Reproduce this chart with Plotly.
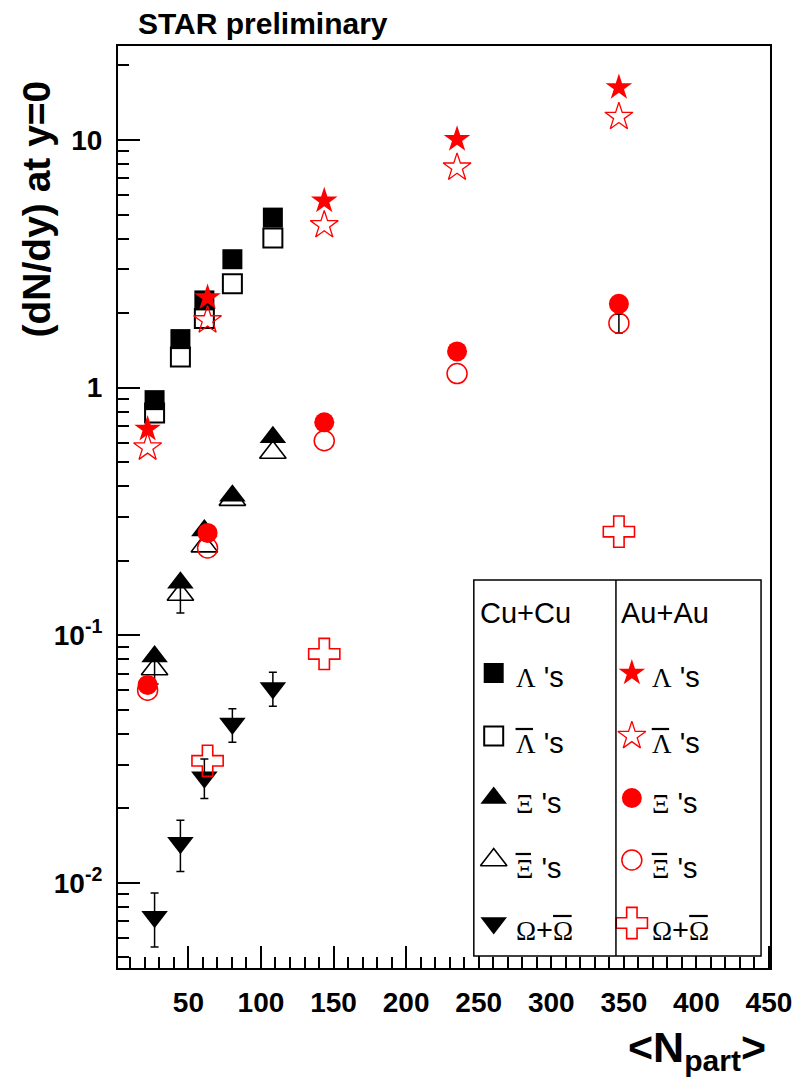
import plotly.graph_objects as go

# ---------------- data ----------------
cu_npart = [26.7, 44.5, 61.0, 80.3, 108.2]
cu_lambda = [0.89, 1.57, 2.25, 3.30, 4.86]
cu_antilambda = [0.79, 1.33, 1.90, 2.63, 4.02]
cu_xi = [0.082, 0.163, 0.265, 0.366, 0.63]
cu_antixi = [0.073, 0.146, 0.229, 0.353, 0.547]
cu_antixi_err = [0.0095, 0.023, 0.0, 0.0, 0.0]
cu_omega = [0.0073, 0.0145, 0.0267, 0.0440, 0.0612]
cu_omega_hi = [0.0091, 0.0179, 0.0316, 0.0505, 0.0708]
cu_omega_lo = [0.0055, 0.0111, 0.0219, 0.0370, 0.0516]

au_npart = [21.9, 63.2, 143.6, 235.1, 346.6]
au_lambda = [0.68, 2.31, 5.68, 10.06, 16.3]
au_antilambda = [0.573, 1.87, 4.53, 7.74, 12.4]
au_xi = [0.063, 0.259, 0.724, 1.40, 2.18]
au_xi_err = [0.0, 0.0, 0.0, 0.0, 0.13]
au_antixi = [0.060, 0.225, 0.61, 1.14, 1.82]
au_antixi_err = [0.0, 0.0, 0.0, 0.0, 0.16]
au_omega_npart = [63.2, 143.6, 346.6]
au_omega = [0.0311, 0.084, 0.262]

y_tickvals = [0.01, 0.1, 1, 10]
y_ticktext = ["10<sup>-2</sup>", "10<sup>-1</sup>", "1", "10"]
y_minor = [m * 10 ** e for e in (-3, -2, -1, 0, 1) for m in range(2, 10)]

# ---------------- layout geometry (pixels) ----------------
W, H = 804, 1083
L, R, T, B = 118, 774, 46, 968
XR = [1.5, 450.7]
YR = [-2.344, 1.3797]

def fx(px):
    return (px - L) / (R - L)

def fy(py):
    return (B - py) / (B - T)

RED = "#ff0000"
BLK = "#000000"
SANS = "Liberation Sans"
SERIF = "Liberation Serif"

styles = {
    "cu_l": dict(symbol="square", size=20, color=BLK),
    "cu_al": dict(symbol="square-open", size=19, color=BLK, line=dict(color=BLK, width=2)),
    "cu_x": dict(symbol="triangle-up", size=23, color=BLK),
    "cu_ax": dict(symbol="triangle-up-open", size=23, color=BLK, line=dict(color=BLK, width=1.6)),
    "cu_o": dict(symbol="triangle-down", size=23, color=BLK),
    "au_l": dict(symbol="star", size=20, color=RED),
    "au_al": dict(symbol="star-open", size=21, color=RED, line=dict(color=RED, width=1.3)),
    "au_x": dict(symbol="circle", size=20, color=RED),
    "au_ax": dict(symbol="circle-open", size=20, color=RED, line=dict(color=RED, width=1.5)),
    "au_o": dict(symbol="cross-open", size=26, color=RED, line=dict(color=RED, width=1.6)),
}

fig = go.Figure()

def add_err(xs, ys, plus, minus):
    """error bars only (drawn beneath the markers); skip points without error"""
    sel = [i for i in range(len(xs)) if plus[i] > 0 or minus[i] > 0]
    if not sel:
        return
    fig.add_trace(go.Scatter(
        x=[xs[i] for i in sel], y=[ys[i] for i in sel], mode="markers",
        marker=dict(size=1, opacity=0), showlegend=False, hoverinfo="skip",
        error_y=dict(type="data", array=[plus[i] for i in sel],
                     arrayminus=[minus[i] for i in sel], color=BLK,
                     thickness=1.5, width=4, visible=True)))

add_err(cu_npart, cu_antixi, cu_antixi_err, cu_antixi_err)
add_err(cu_npart, cu_omega, [h - v for h, v in zip(cu_omega_hi, cu_omega)],
        [v - l for v, l in zip(cu_omega, cu_omega_lo)])
add_err(au_npart, au_xi, au_xi_err, au_xi_err)
add_err(au_npart, au_antixi, au_antixi_err, au_antixi_err)

series = [
    (cu_npart, cu_lambda, "cu_l"),
    (cu_npart, cu_antilambda, "cu_al"),
    (cu_npart, cu_xi, "cu_x"),
    (cu_npart, cu_antixi, "cu_ax"),
    (cu_npart, cu_omega, "cu_o"),
    (au_npart, au_lambda, "au_l"),
    (au_npart, au_antilambda, "au_al"),
    (au_npart, au_xi, "au_x"),
    (au_npart, au_antixi, "au_ax"),
    (au_omega_npart, au_omega, "au_o"),
]
for xs, ys, key in series:
    fig.add_trace(go.Scatter(x=xs, y=ys, mode="markers", marker=styles[key], showlegend=False,
                             hoverinfo="skip", cliponaxis=False))

# ---------------- hand-made two-column legend ----------------
leg_box = (476, 580, 765, 956)
leg_div = 619
col_marker_x = [496, 635]
col_text_x = [516, 653]
col_head_x = [480, 622]
row_marker_y = [673, 736, 798, 860, 923]
row_text_y = [677, 743, 803, 868, 930]
head_y = 613
leg_keys = [["cu_l", "cu_al", "cu_x", "cu_ax", "cu_o"],
            ["au_l", "au_al", "au_x", "au_ax", "au_o"]]
greek = ["Λ", "Λ", "Ξ", "Ξ", None]

for c in range(2):
    for r in range(5):
        fig.add_trace(go.Scatter(x=[col_marker_x[c]], y=[row_marker_y[r]], xaxis="x2", yaxis="y2",
                                 mode="markers", marker=styles[leg_keys[c][r]],
                                 showlegend=False, hoverinfo="skip"))

annotations = []
shapes = []

def gspan(ch):
    return "<span style='font-family:%s;font-size:27px'>%s</span>" % (SERIF, ch)

gw = {"Λ": 19.5, "Ξ": 17.5, "Ω": 20.7}
for c in range(2):
    annotations.append(dict(x=col_head_x[c], y=head_y, xref="x2", yref="y2", xanchor="left",
                            yanchor="middle", showarrow=False,
                            text=["Cu+Cu", "Au+Au"][c],
                            font=dict(family=SANS, size=29, color=BLK)))
    for r in range(5):
        if greek[r] is not None:
            txt = gspan(greek[r]) + " 's"
        else:
            txt = gspan("Ω") + "+" + gspan("Ω")
        annotations.append(dict(x=col_text_x[c], y=row_text_y[r], xref="x2", yref="y2",
                                xanchor="left", yanchor="middle", showarrow=False, text=txt,
                                font=dict(family=SANS, size=29, color=BLK)))
        if r in (1, 3):
            x0 = col_text_x[c] + 2
            x1 = x0 + gw[greek[r]] - 2
            yb = row_text_y[r] - 14
            shapes.append(dict(type="line", xref="x2", yref="y2", x0=x0, x1=x1, y0=yb, y1=yb,
                               line=dict(color=BLK, width=2.2), layer="above"))
        if r == 4:
            x0 = col_text_x[c] + 2 + gw["Ω"] + 17
            x1 = x0 + gw["Ω"] - 2
            yb = row_text_y[r] - 14
            shapes.append(dict(type="line", xref="x2", yref="y2", x0=x0, x1=x1, y0=yb, y1=yb,
                               line=dict(color=BLK, width=2.2), layer="above"))

shapes.insert(0, dict(type="rect", xref="x2", yref="y2", x0=leg_box[0], x1=leg_box[2],
                      y0=leg_box[3] - 12, y1=leg_box[3], fillcolor="white",
                      line=dict(width=0), layer="above"))
shapes.append(dict(type="rect", xref="x2", yref="y2", x0=leg_box[0], x1=leg_box[2],
                   y0=leg_box[1], y1=leg_box[3], line=dict(color=BLK, width=1.5), layer="above"))
shapes.append(dict(type="line", xref="x2", yref="y2", x0=leg_div, x1=leg_div,
                   y0=leg_box[1], y1=leg_box[3], line=dict(color=BLK, width=1.5), layer="above"))

# titles
annotations.append(dict(x=fx(136), y=fy(23), xref="paper", yref="paper", xanchor="left",
                        yanchor="middle", showarrow=False, text="<b>STAR preliminary</b>",
                        font=dict(family=SANS, size=30, color=BLK)))
annotations.append(dict(x=fx(36), y=fy(209), xref="paper", yref="paper", xanchor="center",
                        yanchor="middle", showarrow=False, textangle=-90,
                        text="<b>(dN/dy) at y=0</b>",
                        font=dict(family=SANS, size=39, color=BLK)))
annotations.append(dict(x=fx(772), y=fy(1050), xref="paper", yref="paper", xanchor="right",
                        yanchor="middle", showarrow=False,
                        text="<b>&lt;N<sub>part</sub>&gt;</b>",
                        font=dict(family=SANS, size=43, color=BLK)))

fig.update_layout(
    width=W, height=H,
    margin=dict(l=L, r=W - R, t=T, b=H - B, pad=0),
    paper_bgcolor="white", plot_bgcolor="white",
    showlegend=False,
    xaxis=dict(range=XR, showgrid=False, zeroline=False, showline=True, linecolor=BLK,
               linewidth=2, mirror=True, ticks="inside", ticklen=22, tickwidth=1.5,
               tickcolor=BLK, tick0=0, dtick=50,
               tickfont=dict(family=SANS, size=28, color=BLK, weight="bold"),
               ticklabelstandoff=8,
               minor=dict(ticks="inside", ticklen=11, tickwidth=1.5, tickcolor=BLK, dtick=10,
                          showgrid=False)),
    yaxis=dict(type="log", range=YR, showgrid=False, zeroline=False, showline=True,
               linecolor=BLK, linewidth=2, mirror=True, ticks="inside", ticklen=22,
               tickwidth=1.5, tickcolor=BLK, tickmode="array", tickvals=y_tickvals,
               ticktext=y_ticktext,
               tickfont=dict(family=SANS, size=28, color=BLK, weight="bold"),
               ticklabelstandoff=8,
               minor=dict(ticks="inside", ticklen=11, tickwidth=1.5, tickcolor=BLK,
                          tickmode="array", tickvals=y_minor, showgrid=False)),
    xaxis2=dict(overlaying="x", range=[L, R], visible=False, fixedrange=True),
    yaxis2=dict(overlaying="y", range=[B, T], visible=False, fixedrange=True),
    annotations=annotations,
    shapes=shapes,
)

fig.write_html("out.html")
